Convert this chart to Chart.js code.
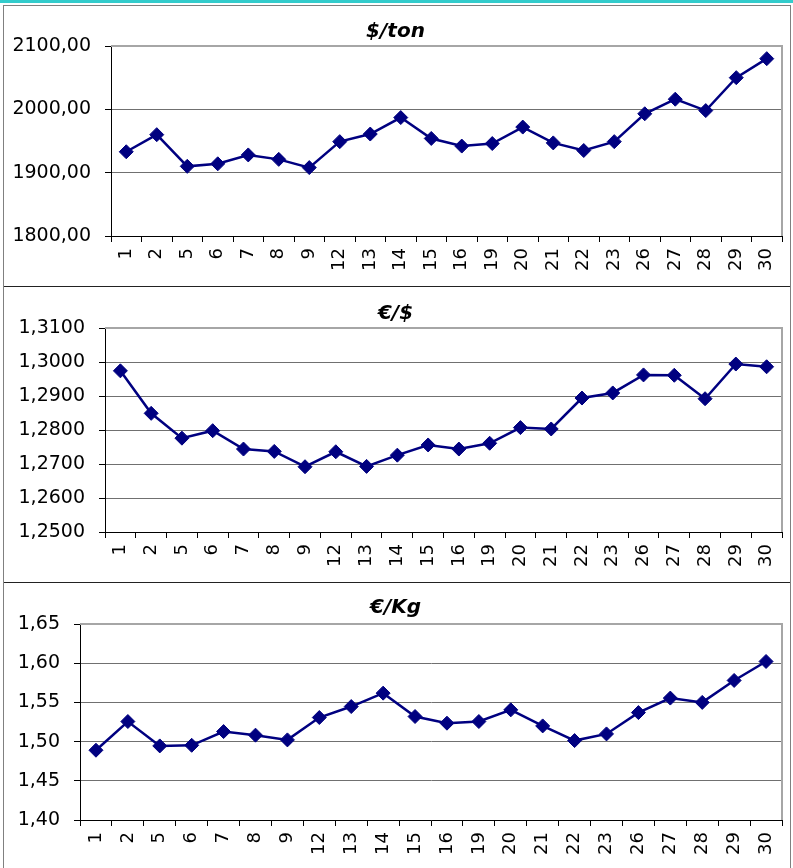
<!DOCTYPE html>
<html><head><meta charset="utf-8">
<script src="https://cdn.jsdelivr.net/npm/chart.js@4/dist/chart.umd.min.js"></script>
<style>
html,body{margin:0;padding:0;background:#fff;width:793px;height:868px;overflow:hidden;position:relative;}
#teal{position:absolute;left:0;top:0;width:793px;height:3px;background:#33cccc;}
#frame{position:absolute;left:3px;top:5px;width:786px;height:870px;border:1px solid #808080;}
.sep{position:absolute;left:4px;width:786px;height:1px;background:#222;}
canvas{position:absolute;left:4px;}
</style></head>
<body>
<div id="teal"></div>
<div id="frame"></div>
<div class="sep" style="top:286px"></div>
<div class="sep" style="top:582px"></div>
<canvas id="c1" width="786" height="280" style="top:6px;width:786px;height:280px"></canvas>
<canvas id="c2" width="786" height="295" style="top:287px;width:786px;height:295px"></canvas>
<canvas id="c3" width="786" height="285" style="top:583px;width:786px;height:285px"></canvas>
<script>
const days = ['1','2','5','6','7','8','9','12','13','14','15','16','19','20','21','22','23','26','27','28','29','30'];
const usdPerTon = [1933,1960,1910,1914,1928,1921,1908,1949,1961,1987,1954,1942,1946,1972,1947,1935,1949,1993,2016,1998,2050,2080];
const eurPerUsd = [1.2974,1.2849,1.2776,1.2798,1.2744,1.2737,1.2692,1.2736,1.2693,1.2726,1.2756,1.2744,1.2761,1.2807,1.2803,1.2894,1.2909,1.2962,1.2961,1.2892,1.2994,1.2986];
const eurPerKg = [1.489,1.5256,1.4945,1.4953,1.5128,1.5082,1.5022,1.5307,1.5447,1.5618,1.532,1.5235,1.5256,1.5405,1.52,1.5013,1.5098,1.537,1.5555,1.55,1.578,1.6022];
const titles = ['$/ton','€/$','€/Kg'];

const framePlugin = {
  id:'frame',
  beforeDatasetsDraw(chart){
    const a = chart.chartArea, ctx = chart.ctx;
    ctx.save();
    ctx.strokeStyle = '#a6a6a6';
    ctx.lineWidth = 2;
    ctx.beginPath();
    ctx.moveTo(a.left, a.top);
    ctx.lineTo(a.right, a.top);
    ctx.lineTo(a.right, a.bottom);
    ctx.stroke();
    ctx.restore();
  }
};

function makeChart(id, title, values, min, max, step, decimals, yWidth, xHeight, padTop, padBottom){
  return new Chart(document.getElementById(id), {
    type:'line',
    data:{labels:days, datasets:[{
      data:values,
      borderColor:'#000080',
      backgroundColor:'#000080',
      borderWidth:2.5,
      pointStyle:'rectRot',
      pointRadius:7,
      pointBorderWidth:1,
      pointBackgroundColor:'#000080',
      pointBorderColor:'#000080',
      tension:0,
      fill:false
    }]},
    options:{
      responsive:false,
      animation:false,
      devicePixelRatio:1,
      layout:{padding:{left:0,right:3,top:0,bottom:0}},
      plugins:{
        legend:{display:false},
        tooltip:{enabled:false},
        title:{display:true,text:title,color:'#000',
          font:{family:'DejaVu Sans',size:20,weight:'bold',style:'italic',lineHeight:1.2},
          padding:{top:padTop,bottom:padBottom}}
      },
      scales:{
        x:{
          offset:true,
          grid:{display:true,drawOnChartArea:false,offset:true,tickLength:6,tickColor:'#000',lineWidth:1},
          border:{display:true,color:'#000',width:1},
          ticks:{autoSkip:false,minRotation:90,maxRotation:90,padding:6,color:'#000',
            font:{family:'DejaVu Sans',size:18}},
          afterFit(s){ s.height = xHeight; s.paddingLeft = 0; s.paddingRight = 0; }
        },
        y:{
          min:min,max:max,
          grid:{color:'#707070',lineWidth:1,tickLength:6,tickColor:'#000'},
          border:{display:true,color:'#000',width:1},
          ticks:{stepSize:step,padding:14,color:'#000',
            font:{family:'DejaVu Sans',size:19},
            callback:(v)=>Number(v).toFixed(decimals).replace('.',',')},
          afterFit(s){ s.width = yWidth; s.paddingTop = 0; s.paddingBottom = 0; }
        }
      }
    },
    plugins:[framePlugin]
  });
}

makeChart('c1', titles[0], usdPerTon, 1800, 2100, 100, 2, 107, 50, 14, 2);
makeChart('c2', titles[1], eurPerUsd, 1.25, 1.31, 0.01, 4, 101, 50, 15, 2);
makeChart('c3', titles[2], eurPerKg, 1.40, 1.65, 0.05, 2, 76, 48, 13, 4);
</script>
</body></html>
